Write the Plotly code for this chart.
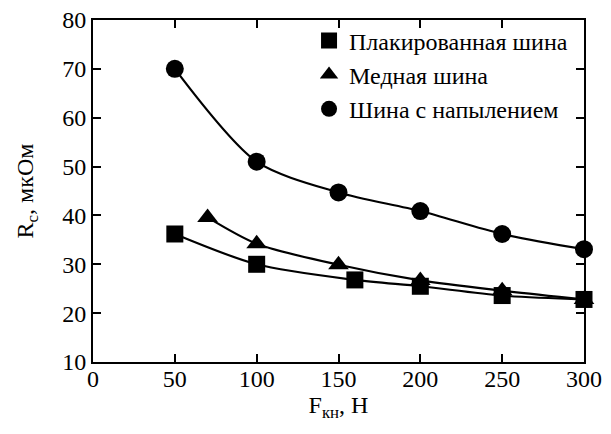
import plotly.graph_objects as go

# Data
x_sq = [50, 100, 160, 200, 250, 300]
y_sq = [36.2, 30.0, 26.8, 25.5, 23.6, 22.8]
x_tr = [70, 100, 150, 200, 250, 300]
y_tr = [39.6, 34.2, 29.9, 26.7, 24.6, 22.8]
x_ci = [50, 100, 150, 200, 250, 300]
y_ci = [70.0, 51.0, 44.7, 40.9, 36.2, 33.1]
names = ["Плакированная шина", "Медная шина", "Шина с напылением"]
symbols = ["square", "triangle-up", "circle"]

FONT = "Liberation Serif"
series = [(x_sq, y_sq, names[0], symbols[0], 17),
          (x_tr, y_tr, names[1], symbols[1], 18),
          (x_ci, y_ci, names[2], symbols[2], 18)]
fig = go.Figure()
for xs, ys, nm, sym, sz in series:
    fig.add_trace(go.Scatter(x=xs, y=ys, mode="lines",
                             line=dict(color="black", width=2.2, shape="spline", smoothing=0.8),
                             showlegend=False, hoverinfo="skip", cliponaxis=False))
for i, (xs, ys, nm, sym, sz) in enumerate(series):
    fig.add_trace(go.Scatter(x=xs, y=ys, mode="markers", name=nm, legendgroup=str(i), cliponaxis=False,
                             marker=dict(symbol=sym, size=sz, color="black")))

axis_common = dict(showline=True, linecolor="black", linewidth=2, mirror="ticks", ticks="inside",
                   ticklen=8, tickwidth=2, tickcolor="black", showgrid=False, zeroline=False,
                   automargin=False, ticklabeloverflow="allow",
                   tickfont=dict(family=FONT, size=24, color="black"))
fig.update_xaxes(range=[0, 300], tickvals=[0, 50, 100, 150, 200, 250, 300], ticklabelstandoff=-6,
                 title=dict(text="F<sub>кн</sub>, Н", font=dict(family=FONT, size=24, color="black"), standoff=4),
                 **axis_common)
fig.update_yaxes(range=[10, 80], tickvals=[10, 20, 30, 40, 50, 60, 70, 80],
                 title=dict(text="R<sub>c</sub>, мкОм", font=dict(family=FONT, size=24, color="black"), standoff=22),
                 **axis_common)
fig.update_layout(template="none", width=611, height=434, margin=dict(l=85, r=35, t=10, b=80),
                  plot_bgcolor="white", paper_bgcolor="white",
                  legend=dict(x=0.44, y=1.005, xanchor="left", yanchor="top", bgcolor="rgba(0,0,0,0)",
                              font=dict(family=FONT, size=24, color="black"), tracegroupgap=0),
                  font=dict(family=FONT, color="black"))
fig.write_html("out.html")
